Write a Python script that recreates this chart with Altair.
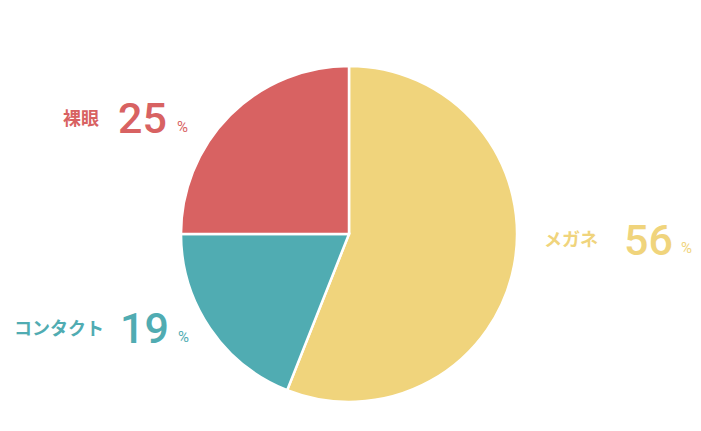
import altair as alt
import pandas as pd

categories = ["メガネ", "コンタクト", "裸眼"]
values = [56, 19, 25]
colors = ["#F0D47C", "#50ACB2", "#D86262"]

df = pd.DataFrame({
    "cat": categories,
    "value": values,
    "order": list(range(len(categories))),
    "label": [str(v) for v in values],
})

color_scale = alt.Scale(domain=categories, range=colors)
base = alt.Chart(df)

pie = base.mark_arc(outerRadius=168, stroke="white", strokeWidth=2.5).encode(
    theta=alt.Theta("value:Q", stack=True),
    color=alt.Color("cat:N", scale=color_scale, legend=None),
    order=alt.Order("order:Q"),
    x=alt.value(341),
    y=alt.value(226),
)

# annotation anchors (chart coords): name right edge / middle, number left / baseline, % left / baseline
anchors = {
    "裸眼": ((91, 112), (110, 125), (169, 124)),
    "メガネ": ((590, 233), (616, 247), (673, 245)),
    "コンタクト": ((96, 322), (112, 335), (170, 334)),
}

layers = [pie]
for cat in categories:
    (nx, ny), (vx, vy), (px, py) = anchors[cat]
    sub = base.transform_filter(alt.datum.cat == cat)
    layers.append(
        sub.mark_text(align="right", baseline="middle", font="Noto Sans CJK JP",
                      fontSize=18, fontWeight="bold").encode(
            text="cat:N",
            color=alt.Color("cat:N", scale=color_scale, legend=None),
            x=alt.value(nx), y=alt.value(ny))
    )
    layers.append(
        sub.mark_text(align="left", baseline="alphabetic", font="Roboto",
                      fontSize=43, fontWeight=500).encode(
            text="label:N",
            color=alt.Color("cat:N", scale=color_scale, legend=None),
            x=alt.value(vx), y=alt.value(vy))
    )
    layers.append(
        sub.mark_text(align="left", baseline="alphabetic", font="Roboto",
                      fontSize=15).encode(
            text=alt.value("%"),
            color=alt.Color("cat:N", scale=color_scale, legend=None),
            x=alt.value(px), y=alt.value(py))
    )

chart = alt.layer(*layers).properties(
    width=685, height=415,
    autosize=alt.AutoSizeParams(type="none"),
    padding=0,
).configure_view(stroke=None)

chart.save("out.html", embed_options={"renderer": "svg", "actions": False})
